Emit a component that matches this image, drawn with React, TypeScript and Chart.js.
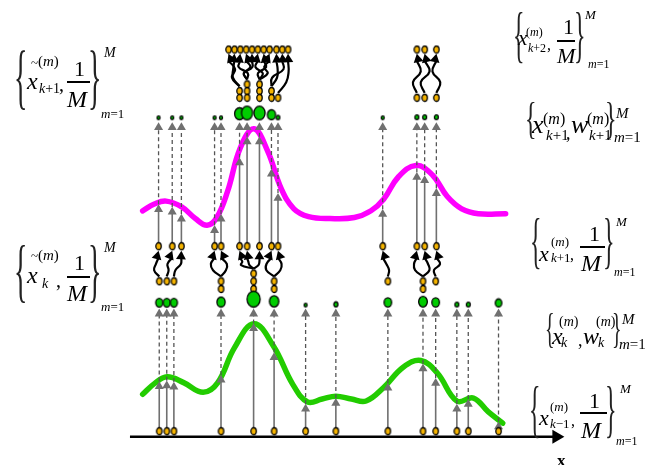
import React, { useEffect, useRef } from 'react';
import { Chart, registerables } from 'chart.js';
Chart.register(...registerables);

const FONT = '"Liberation Serif", "Times New Roman", serif';

// ---------- data ----------
// particles x_{k-1}
const particlesPrev = [155, 162.7, 170, 218.3, 251.7, 272.7, 305, 336, 389.3, 425.3, 438.3, 460, 471.7, 502.7];
// height of likelihood (green) at each particle (arrow tip)
const tipPrev = [386.7, 386, 387.3, 380, 326.7, 356.7, 410, 404, 388.3, 368.3, 383.3, 410, 405, 428.3];
// weights w_k (marker size)
const weightsK = [4.3, 4.3, 4.3, 5, 8, 5.7, 1.8, 2.5, 4.6, 5.3, 4.6, 2.4, 2.4, 4];
// copies after resampling
const copiesK = [1, 1, 1, 2, 3, 2, 0, 0, 1, 2, 1, 0, 0, 0];
// predicted particles x_{k+1}
const particlesNext = [154.3, 168.3, 177.7, 211.7, 218.3, 237.3, 245, 257.7, 270, 276.7, 384, 419, 427, 439];
const tipNext = [203.3, 206, 213.3, 225, 213.3, 155, 133.3, 133.3, 166.7, 191.7, 208.3, 170, 173.3, 186.7];
const weightsNext = [1.8, 1.8, 1.8, 1.8, 1.8, 6, 6.8, 6.8, 5, 2.2, 1.8, 2.4, 2.4, 2.4];
const copiesNext = [0, 0, 0, 0, 0, 2, 3, 3, 2, 1, 0, 1, 1, 1];
// predicted particles x_{k+2}
const particlesNext2 = [226, 232, 238, 244, 250, 256, 262, 268, 275, 281, 287, 419, 427, 439];

// likelihood curves
const greenX = [138, 150, 163, 180, 200, 215, 232, 252, 272, 292, 307, 322, 336, 352, 367, 385, 405, 423, 440, 460, 477, 492, 507];
const greenY = [400, 389, 382, 388, 398, 388, 352, 327, 350, 390, 408, 405, 402, 405, 407, 393, 372, 365, 378, 407, 404, 418, 430];
const magentaX = [138, 150, 162, 178, 192, 204, 214, 225, 238, 252, 266, 280, 293, 308, 330, 355, 372, 385, 400, 418, 435, 450, 465, 482, 510];
const magentaY = [210, 203, 200, 206, 218, 225, 217, 190, 145, 125, 148, 187, 208, 216, 218, 217, 210, 198, 175, 163, 173, 195, 208, 213, 213];

// shape of the wiggly propagation arrows (horizontal offsets)
const wiggleLower = [[-5, -3], [0, -3], [-1, 2], [-6, -6], [5, 6], [-8, -2], [-2, -1], [3, 2], [-7, -6], [5, 5], [3, 2], [-6, -5], [6, 4], [-2, 4]];
const wiggleUpper = [[-4, 3], [-5, -3], [3, -4], [-3, 4], [-5, 2], [4, -3], [-3, 4], [5, -2], [4, 3], [-3, 5], [5, 4], [-4, 4], [-4, 5], [4, -4]];

// ---------- layout levels ----------
const LV = {
  base: 438.3, axis: 444, wTip: 311.5, wBottom: 309.5, resTop: 283, resStep: 8,
  pred: 246.7, predTip: 251.5, topTip: 118.5, topBottom: 115.5, res2: 93, res2Step: 7,
  pred2: 43, pred2Tip: 47.5,
};
const GRAY = '#707070';
const DGRAY = '#555555';
const ORANGE = '#f5b400';
const GREEN = '#00cc00';
const TRI = 5.2;

function makeEllipse(rx: number, ry: number, fill: string) {
  const c = document.createElement('canvas');
  c.width = Math.ceil(rx * 2 + 3);
  c.height = Math.ceil(ry * 2 + 3);
  const g = c.getContext('2d')!;
  g.beginPath();
  g.ellipse(c.width / 2, c.height / 2, rx, ry, 0, 0, Math.PI * 2);
  g.fillStyle = fill;
  g.fill();
  g.lineWidth = 1.3;
  g.strokeStyle = '#000';
  g.stroke();
  return c;
}

function segs(list: [number, number, number][]) {
  const out: any[] = [];
  list.forEach(([x, a, b]) => out.push({ x, y: a }, { x, y: b }, { x, y: null }));
  return out;
}

function stackYs(c: number, top: number, step: number, single: number) {
  if (c === 1) return [single];
  const ys: number[] = [];
  for (let j = 0; j < c; j++) ys.push(top - step * (c - 1) + step * j);
  return ys;
}

function buildDatasets() {
  const ds: any[] = [];
  const orangeImg = makeEllipse(2.7, 3.5, ORANGE);
  const lineDs = (data: any[], color: string, width: number, order: number, extra: any = {}) => ({
    data, showLine: true, borderColor: color, borderWidth: width, pointRadius: 0, pointHoverRadius: 0,
    fill: false, order, ...extra,
  });
  const ptDs = (data: any[], order: number, extra: any) => ({ data, showLine: false, order, pointHoverRadius: 0, ...extra });

  // axis
  ds.push(lineDs([{ x: 125, y: LV.axis }, { x: 560, y: LV.axis }], '#000', 2.5, 30));
  ds.push(ptDs([{ x: 570 - 8, y: LV.axis }], 2, { pointStyle: 'triangle', pointRadius: 8, pointRotation: 90, backgroundColor: '#000', borderWidth: 0 }));

  // curves
  ds.push(lineDs(greenX.map((x, i) => ({ x, y: greenY[i] })), '#22cc00', 5.5, 20, { tension: 0.4, borderCapStyle: 'round' }));
  ds.push(lineDs(magentaX.map((x, i) => ({ x, y: magentaY[i] })), '#ff00ff', 5.5, 20, { tension: 0.4, borderCapStyle: 'round' }));

  // lower layer stems
  ds.push(lineDs(segs(particlesPrev.map((x, i) => [x, LV.base - 3, tipPrev[i] + 2])), GRAY, 1.6, 10));
  ds.push(lineDs(segs(particlesPrev.map((x, i) => [x, tipPrev[i], LV.wTip + 3])), DGRAY, 1.3, 10, { borderDash: [4, 3] }));
  ds.push(ptDs(particlesPrev.map((x, i) => ({ x, y: tipPrev[i] + TRI })), 4, { pointStyle: 'triangle', pointRadius: TRI, backgroundColor: GRAY, borderWidth: 0 }));
  ds.push(ptDs(particlesPrev.map((x) => ({ x, y: LV.wTip + TRI })), 4, { pointStyle: 'triangle', pointRadius: TRI, backgroundColor: GRAY, borderWidth: 0 }));
  ds.push(ptDs(particlesPrev.map((x) => ({ x, y: LV.base })), 1, { pointStyle: orangeImg, pointRadius: 3 }));
  ds.push(ptDs(particlesPrev.map((x, i) => ({ x, y: LV.wBottom - weightsK[i] })), 1, {
    pointStyle: weightsK.map((w) => makeEllipse(w * 0.82, w, GREEN)), pointRadius: 3,
  }));

  // resampling (lower)
  const resLower: any[] = [];
  const startsLower: { x: number; y: number }[] = [];
  particlesPrev.forEach((x, i) => {
    const c = copiesK[i];
    if (!c) return;
    const ys = stackYs(c, LV.resTop + LV.resStep, LV.resStep, LV.resTop);
    ys.forEach((y) => resLower.push({ x, y }));
    for (let j = 0; j < c; j++) startsLower.push({ x, y: Math.min(...ys) - 5 });
  });
  ds.push(ptDs(resLower, 1, { pointStyle: orangeImg, pointRadius: 3 }));

  // resampling (upper)
  const resUpper: any[] = [];
  const startsUpper: { x: number; y: number }[] = [];
  particlesNext.forEach((x, i) => {
    const c = copiesNext[i];
    if (!c) return;
    const ys = stackYs(c, LV.res2, LV.res2Step, LV.res2);
    ys.forEach((y) => resUpper.push({ x, y }));
    for (let j = 0; j < c; j++) startsUpper.push({ x, y: Math.min(...ys) - 5 });
  });
  ds.push(ptDs(resUpper, 1, { pointStyle: orangeImg, pointRadius: 3 }));

  // wiggly propagation arrows
  const addCurvy = (starts: { x: number; y: number }[], ends: number[], tip: number, wig: number[][]) => {
    const heads: any[] = [];
    const rots: number[] = [];
    starts.forEach((s, k) => {
      const xe = ends[k];
      const ye = tip + TRI + 2;
      const [w1, w2] = wig[k];
      const p1 = { x: s.x + (xe - s.x) / 3 + w1, y: s.y + (ye - s.y) / 3 };
      const p2 = { x: s.x + (2 * (xe - s.x)) / 3 + w2, y: s.y + (2 * (ye - s.y)) / 3 };
      ds.push(lineDs([s, p1, p2, { x: xe, y: ye }], '#000', 2.2, 8, { tension: 0.45 }));
      const th = Math.atan2(xe - p2.x, p2.y - ye) * 0.6;
      rots.push((th * 180) / Math.PI);
      heads.push({ x: xe - TRI * 1.1 * Math.sin(th), y: tip + TRI * 1.1 * Math.cos(th) });
    });
    ds.push(ptDs(heads, 2, { pointStyle: 'triangle', pointRadius: TRI * 1.1, pointRotation: rots, backgroundColor: '#000', borderWidth: 0 }));
  };
  addCurvy(startsLower, particlesNext, LV.predTip, wiggleLower);
  addCurvy(startsUpper, particlesNext2, LV.pred2Tip, wiggleUpper);

  // middle layer stems
  ds.push(lineDs(segs(particlesNext.map((x, i) => [x, LV.pred - 3, tipNext[i] + 2])), GRAY, 1.6, 10));
  ds.push(lineDs(segs(particlesNext.map((x, i) => [x, tipNext[i], LV.topTip + 3])), DGRAY, 1.3, 10, { borderDash: [4, 3] }));
  ds.push(ptDs(particlesNext.map((x, i) => ({ x, y: tipNext[i] + TRI })), 4, { pointStyle: 'triangle', pointRadius: TRI, backgroundColor: GRAY, borderWidth: 0 }));
  ds.push(ptDs(particlesNext.map((x) => ({ x, y: LV.topTip + TRI })), 4, { pointStyle: 'triangle', pointRadius: TRI, backgroundColor: GRAY, borderWidth: 0 }));
  ds.push(ptDs(particlesNext.map((x) => ({ x, y: LV.pred })), 1, { pointStyle: orangeImg, pointRadius: 3 }));
  ds.push(ptDs(particlesNext.map((x, i) => ({ x, y: LV.topBottom - weightsNext[i] })), 1, {
    pointStyle: weightsNext.map((w) => makeEllipse(w * 0.82, w, GREEN)), pointRadius: 3,
  }));
  ds.push(ptDs(particlesNext2.map((x) => ({ x, y: LV.pred2 })), 1, { pointStyle: orangeImg, pointRadius: 3 }));
  return ds;
}

// ---------- labels ----------
type Txt = [string, number, number, number]; // text, x, baseline, size
type Label = { L: [number, number]; R: [number, number]; top: number; bottom: number; parts: Txt[]; bars: [number, number, number][] };

const labels: Label[] = [
  {
    L: [17, 24], R: [92, 99], top: 52, bottom: 113,
    parts: [['~', 31, 67, 13], ['(*m*)', 38, 67, 15], ['*x*', 27, 89, 24], ['*k*+1', 39, 94, 14], [',', 59, 91, 20], ['1', 74, 76, 22], ['*M*', 67, 107, 24], ['*M*', 104, 58, 14], ['*m*=1', 101, 118, 13]],
    bars: [[67, 90, 82]],
  },
  {
    L: [17, 24], R: [92, 99], top: 247, bottom: 307,
    parts: [['~', 31, 260, 13], ['(*m*)', 38, 261, 15], ['*x*', 27, 283, 24], ['*k*', 42, 289, 14], [',', 56, 287, 20], ['1', 74, 270, 22], ['*M*', 67, 301, 24], ['*M*', 104, 253, 14], ['*m*=1', 101, 311, 13]],
    bars: [[67, 90, 277]],
  },
  {
    L: [515, 521], R: [577, 583], top: 15, bottom: 67,
    parts: [['*x*', 518, 46, 21], ['(*m*)', 526, 36, 12], ['*k*+2', 528, 52, 12], [',', 547, 50, 16], ['1', 563, 34, 22], ['*M*', 557, 63, 22], ['*M*', 585, 19, 13], ['*m*=1', 588, 68, 12]],
    bars: [[557, 575, 41]],
  },
  {
    L: [527, 533], R: [608, 614], top: 103, bottom: 142,
    parts: [['*x*', 532, 134, 26], ['(*m*)', 543, 124, 16], ['*k*+1', 546, 141, 15], [',', 566, 139, 18], ['*w*', 571, 134, 26], ['(*m*)', 587, 124, 16], ['*k*+1', 589, 141, 15], ['*M*', 616, 119, 15], ['*m*=1', 614, 143, 15]],
    bars: [],
  },
  {
    L: [532, 538], R: [606, 612], top: 220, bottom: 273,
    parts: [['*x*', 539, 261, 22], ['(*m*)', 551, 246, 13], ['*k*+1', 551, 262, 13], [',', 570, 260, 16], ['1', 589, 241, 22], ['*M*', 581, 271, 24], ['*M*', 616, 226, 13], ['*m*=1', 614, 276, 12]],
    bars: [[580, 605, 247]],
  },
  {
    L: [547, 552], R: [615, 620], top: 313, bottom: 350,
    parts: [['*x*', 552, 344, 24], ['(*m*)', 559, 327, 14], ['*k*', 561, 348, 14], [',', 578, 346, 18], ['*w*', 583, 344, 24], ['(*m*)', 596, 327, 14], ['*k*', 598, 348, 14], ['*M*', 622, 325, 15], ['*m*=1', 619, 350, 15]],
    bars: [],
  },
  {
    L: [531, 537], R: [608, 614], top: 387, bottom: 442,
    parts: [['*x*', 539, 425, 22], ['(*m*)', 550, 411, 13], ['*k*−1', 550, 428, 13], [',', 571, 426, 16], ['1', 589, 408, 22], ['*M*', 581, 438, 24], ['*M*', 620, 393, 13], ['*m*=1', 616, 445, 12]],
    bars: [[580, 607, 413]],
  },
];

function rich(t: string) {
  return t.split('*').map((seg, i) => (i % 2 ? <i key={i}>{seg}</i> : <span key={i}>{seg}</span>));
}

function Brace({ ch, l, r, t, b }: { ch: string; l: number; r: number; t: number; b: number }) {
  const F = (b - t) / 0.86;
  const baseline = b - 0.18 * F;
  const sx = (r - l) / (0.25 * F);
  const lsb = (ch === '{' ? 0.1 : 0.13) * F * sx;
  return (
    <span style={{ position: 'absolute', left: l - lsb, top: baseline - 0.8375 * F, fontSize: F, lineHeight: `${F}px`, transform: `scaleX(${sx})`, transformOrigin: '0 0', whiteSpace: 'pre', color: '#222' }}>
      {ch}
    </span>
  );
}

export default function App() {
  const ref = useRef<HTMLCanvasElement>(null);
  useEffect(() => {
    const chart = new Chart(ref.current!, {
      type: 'scatter',
      data: { datasets: buildDatasets() },
      options: {
        animation: false,
        responsive: false,
        events: [],
        layout: { padding: 0 },
        plugins: { legend: { display: false }, tooltip: { enabled: false } },
        scales: {
          x: { type: 'linear', min: 0, max: 660, display: false },
          y: { type: 'linear', min: 0, max: 465, reverse: true, display: false },
        },
      } as any,
    });
    return () => chart.destroy();
  }, []);

  return (
    <div style={{ position: 'absolute', left: 0, top: 0, width: 660, height: 465, background: '#fff', overflow: 'hidden', fontFamily: FONT, color: '#000' }}>
      <canvas ref={ref} width={660} height={465} style={{ position: 'absolute', left: 0, top: 0, width: 660, height: 465 }} />
      {labels.map((lb, k) => (
        <React.Fragment key={k}>
          <Brace ch="{" l={lb.L[0]} r={lb.L[1]} t={lb.top} b={lb.bottom} />
          <Brace ch="}" l={lb.R[0]} r={lb.R[1]} t={lb.top} b={lb.bottom} />
          {lb.parts.map(([t, x, y, s], j) => (
            <span key={j} style={{ position: 'absolute', left: x, top: y - 0.8375 * s, fontSize: s, lineHeight: `${s}px`, whiteSpace: 'pre' }}>
              {rich(t)}
            </span>
          ))}
          {lb.bars.map(([x1, x2, y], j) => (
            <div key={'b' + j} style={{ position: 'absolute', left: x1, top: y - 0.6, width: x2 - x1, height: 1.2, background: '#000' }} />
          ))}
        </React.Fragment>
      ))}
      <span style={{ position: 'absolute', left: 557, top: 466 - 0.8375 * 17, fontSize: 17, lineHeight: '17px', fontWeight: 'bold' }}>x</span>
    </div>
  );
}
